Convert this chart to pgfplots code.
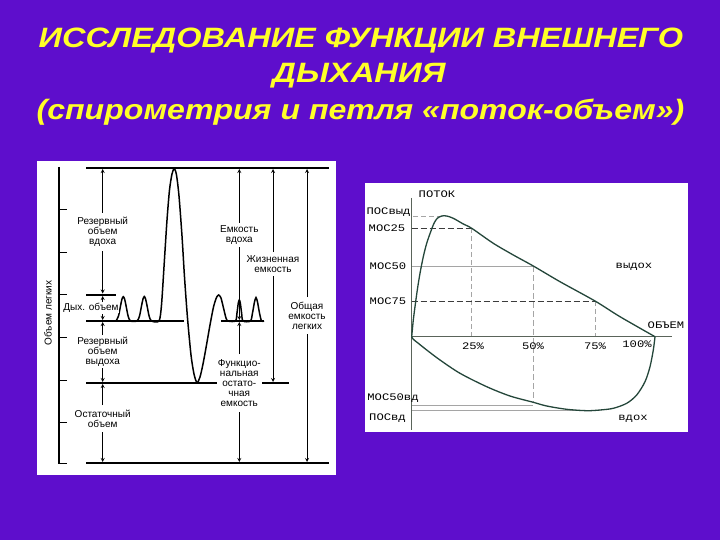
\documentclass[border=0pt]{standalone}
\usepackage{pgfplots}
\pgfplotsset{compat=1.18}
\usepackage{fontspec}
\setmainfont{Liberation Sans}
\newfontfamily\mono{Liberation Mono}
\definecolor{bgpurple}{RGB}{94,14,204}
\definecolor{ttl}{RGB}{255,255,40}
\definecolor{loopc}{RGB}{36,70,58}
\definecolor{axc}{RGB}{90,100,90}
\definecolor{dashd}{RGB}{60,60,60}
\definecolor{dashl}{RGB}{165,165,165}
\newcommand{\lt}{\fontsize{10}{10.2}\selectfont}
\newcommand{\rt}[1]{\scalebox{1.22}[1]{\mono\fontsize{10}{10}\selectfont #1}}
\newcommand{\ttl}[2][1.17]{\scalebox{#1}[1]{\bfseries\itshape\fontsize{28}{30}\selectfont #2}}
\begin{document}
\begin{tikzpicture}
\begin{axis}[scale only axis, width=720pt, height=540pt,
  xmin=0, xmax=720, ymin=0, ymax=540, y dir=reverse,
  hide axis, clip=false]
% background and panels
\fill[bgpurple] (axis cs:0,0) rectangle (axis cs:720,540);
\fill[white] (axis cs:37,161) rectangle (axis cs:336,475);
\fill[white] (axis cs:365,183) rectangle (axis cs:688,432);
% title
\node[ttl, anchor=base] at (axis cs:361,48) {\ttl[1.16]{ИССЛЕДОВАНИЕ ФУНКЦИИ ВНЕШНЕГО}};
\node[ttl, anchor=base] at (axis cs:359,83) {\ttl{ДЫХАНИЯ}};
\node[ttl, anchor=base] at (axis cs:360.5,120) {\ttl[1.145]{(спирометрия и петля «поток-объем»)}};

% ---------- left panel: spirogram ----------
\addplot[black, line width=1.3pt] coordinates {(59,167) (59,464)};
\addplot[black, line width=1pt] coordinates {(59,210) (67,210)};
\addplot[black, line width=1pt] coordinates {(59,252) (67,252)};
\addplot[black, line width=1pt] coordinates {(59,294) (67,294)};
\addplot[black, line width=1pt] coordinates {(59,337) (67,337)};
\addplot[black, line width=1pt] coordinates {(59,380) (67,380)};
\addplot[black, line width=1pt] coordinates {(59,422) (67,422)};
\addplot[black, line width=1pt] coordinates {(59,463) (67,463)};
\addplot[black, line width=2.2pt] coordinates {(86,168) (329,168)};
\addplot[black, line width=2.2pt] coordinates {(86,463) (329,463)};
\addplot[black, line width=1.2pt] coordinates {(86,295) (116,295)};
\addplot[black, line width=1.2pt] coordinates {(86,321) (184,321)};
\addplot[black, line width=1.2pt] coordinates {(221,321) (264,321)};
\addplot[black, line width=1.2pt] coordinates {(86,383) (217,383)};
\addplot[black, line width=1.2pt] coordinates {(262,383) (289,383)};
% curve
\addplot[black, line width=1.5pt, smooth, tension=0.45] coordinates {
(116,321) (118.5,316) (120.5,306) (122,299) (123.3,296.7) (124.6,299) (126.1,306) (128.1,316) (130.5,321)
(137,321) (139.5,316) (141.5,306) (143,299) (144.3,296.5) (145.6,299) (147.1,306) (149.1,316) (151.5,321)
(159,321) (161.5,305) (164.3,262) (167,220) (169.5,190) (172,174) (174.3,168.5) (176.5,175) (179,196)
(182,236) (184.5,277) (187.5,318) (191,355) (194,374) (197,382.7) (200,377) (203,364) (206.5,345)
(210,325) (213.5,307) (216.5,297.5) (218.7,295) (221,298) (223.5,308) (226,318) (228,321)
(235.5,321) (237,313) (238.3,303) (239.3,300) (240.3,303) (241.6,313) (243,321)
(250.5,321) (252.5,313) (254.5,302) (256,297.5) (257.5,302) (259.5,313) (261.5,321) (264,321)};
% arrows column A
\addplot[black, line width=0.8pt, -stealth] coordinates {(102.7,213) (102.7,169)};
\addplot[black, line width=0.8pt, -stealth] coordinates {(102.7,251) (102.7,293.5)};
\addplot[black, line width=0.8pt, -stealth] coordinates {(102.7,302) (102.7,296)};
\addplot[black, line width=0.8pt, -stealth] coordinates {(102.7,314) (102.7,320)};
\addplot[black, line width=0.8pt, -stealth] coordinates {(102.7,335) (102.7,322)};
\addplot[black, line width=0.8pt, -stealth] coordinates {(102.7,368) (102.7,382)};
\addplot[black, line width=0.8pt, -stealth] coordinates {(102.7,405) (102.7,384)};
\addplot[black, line width=0.8pt, -stealth] coordinates {(102.7,432) (102.7,462)};
% column B
\addplot[black, line width=0.8pt, -stealth] coordinates {(239.3,223) (239.3,169)};
\addplot[black, line width=0.8pt, -stealth] coordinates {(239.3,247) (239.3,320)};
\addplot[black, line width=0.8pt, -stealth] coordinates {(239.3,354) (239.3,322)};
\addplot[black, line width=0.8pt, -stealth] coordinates {(239.3,412) (239.3,462)};
% column C
\addplot[black, line width=0.8pt, -stealth] coordinates {(273,252) (273,169)};
\addplot[black, line width=0.8pt, -stealth] coordinates {(273,276) (273,382)};
% column D
\addplot[black, line width=0.8pt, -stealth] coordinates {(307,297) (307,169)};
\addplot[black, line width=0.8pt, -stealth] coordinates {(307,334) (307,462)};
% left labels
\node[rotate=90, font=\lt] at (axis cs:48,313) {Объем легких};
\node[font=\lt, align=center] at (axis cs:102.7,231.7) {Резервный\\объем\\вдоха};
\node[font=\lt, fill=white, inner sep=0.5pt] at (axis cs:91,308) {Дых. объем};
\node[font=\lt, align=center] at (axis cs:102.7,351.7) {Резервный\\объем\\выдоха};
\node[font=\lt, align=center] at (axis cs:102.7,419) {Остаточный\\объем};
\node[font=\lt, align=center] at (axis cs:239.3,235.3) {Емкость\\вдоха};
\node[font=\lt, align=center] at (axis cs:239.3,383) {Функцио-\\нальная\\остато-\\чная\\емкость};
\node[font=\lt, align=center] at (axis cs:273,264.3) {Жизненная\\емкость};
\node[font=\lt, align=center] at (axis cs:307,316) {Общая\\емкость\\легких};

% ---------- right panel: flow-volume loop ----------
\addplot[dashl, line width=0.6pt, dash pattern=on 5pt off 3pt] coordinates {(413,216) (441.7,216)};
\addplot[dashd, line width=0.7pt, dash pattern=on 6pt off 3pt] coordinates {(411.7,228.3) (471.7,228.3)};
\addplot[dashl, line width=0.6pt, dash pattern=on 5pt off 3pt] coordinates {(471.7,228.3) (471.7,336.7)};
\addplot[dashl, line width=0.6pt] coordinates {(411.7,266) (533.3,266)};
\addplot[dashl, line width=0.6pt, dash pattern=on 6pt off 3pt] coordinates {(533.3,266) (533.3,402.3)};
\addplot[dashd, line width=0.7pt, dash pattern=on 6pt off 3pt] coordinates {(411.7,301) (595,301)};
\addplot[dashl, line width=0.6pt, dash pattern=on 5pt off 3pt] coordinates {(595,301) (595,336.7)};
\addplot[dashl, line width=0.5pt] coordinates {(411.7,405) (533.3,405)};
\addplot[dashl, line width=0.5pt] coordinates {(411.7,410) (600,410)};
% axes
\addplot[axc, line width=0.9pt] coordinates {(411.7,198) (411.7,430)};
\addplot[axc, line width=0.9pt] coordinates {(411.7,336.7) (671.7,336.7)};
% loop
\addplot[loopc, line width=1.3pt, smooth, tension=0.5] coordinates {
(411.7,336.7) (413.3,320) (415,306.7) (417.3,290) (420,273.3) (423.3,256.7) (426.7,243.3)
(430.7,231.7) (434,223.3) (437.3,218.3) (441.7,216) (446.7,216) (453.3,218.3) (463.3,224)
(471.7,228.3) (493.3,243.3) (513.3,255) (533.3,266) (560,281.7) (595,301) (620,316.7) (655,336.7)};
\addplot[loopc, line width=1.3pt, smooth, tension=0.5] coordinates {
(655,336.7) (653.3,350) (650,366.7) (645,381.7) (636.7,395) (626.7,403.3) (613.3,408.3)
(600,410) (586.7,410.7) (566.7,409.3) (546.7,406) (533.3,402.3) (510,396) (486.7,386.7)
(460,373.3) (440,360) (426.7,350) (418.3,343.3) (413.3,339.3) (411.7,336.7)};
% right labels
\node at (axis cs:437,194) {\rt{ПОТОК}};
\node at (axis cs:388.5,212) {\rt{ПОСвыд}};
\node at (axis cs:387,228.3) {\rt{МОС25}};
\node at (axis cs:388,266) {\rt{МОС50}};
\node at (axis cs:388,301) {\rt{МОС75}};
\node at (axis cs:393,398) {\rt{МОС50вд}};
\node at (axis cs:387.5,418) {\rt{ПОСвд}};
\node at (axis cs:634,267) {\rt{выдох}};
\node at (axis cs:666,325) {\rt{ОБЪЕМ}};
\node at (axis cs:473,346) {\rt{25\%}};
\node at (axis cs:533,346) {\rt{50\%}};
\node at (axis cs:595,346) {\rt{75\%}};
\node at (axis cs:637,344) {\rt{100\%}};
\node at (axis cs:633,419) {\rt{вдох}};
\end{axis}
\end{tikzpicture}
\end{document}
